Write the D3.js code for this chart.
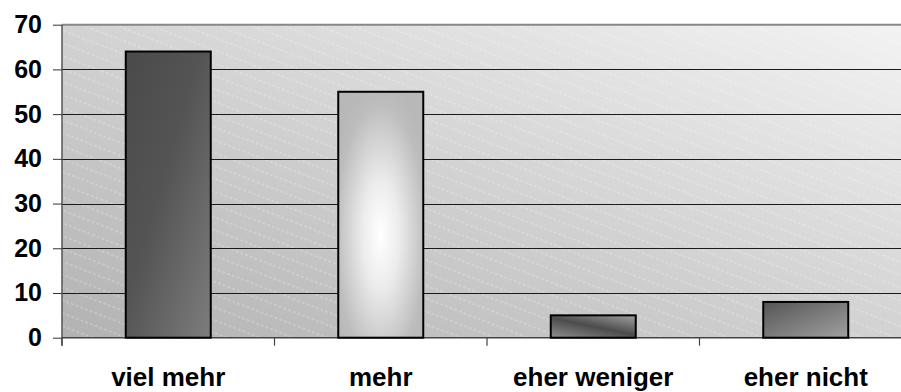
<!DOCTYPE html>
<html><head><meta charset="utf-8">
<script src="https://cdn.jsdelivr.net/npm/d3@7"></script>
<style>html,body{margin:0;padding:0;background:#fff;}svg{display:block;}</style>
</head><body>
<script>
const categories = ["viel mehr", "mehr", "eher weniger", "eher nicht"];
const values = [64, 55, 5, 8];
const yTicks = [0, 10, 20, 30, 40, 50, 60, 70];

const W = 901, H = 392;
const pLeft = 62, pRight = 912, pTop = 24.7, pBottom = 337.7;
const font = "'Liberation Sans', Arial, sans-serif";

const svg = d3.select("body").append("svg").attr("width", W).attr("height", H);
const defs = svg.append("defs");

const x = d3.scaleBand().domain(categories).range([pLeft, pRight]).padding(0);
const y = d3.scaleLinear().domain([0, 70]).range([pBottom, pTop]);

// background gradient
const bg = defs.append("linearGradient").attr("id", "bg")
  .attr("x1", 0).attr("y1", 1).attr("x2", 1).attr("y2", 0);
bg.append("stop").attr("offset", 0).attr("stop-color", "#b2b2b2");
bg.append("stop").attr("offset", 1).attr("stop-color", "#f3f3f3");

// stripes pattern
const pat = defs.append("pattern").attr("id", "stripes")
  .attr("patternUnits", "userSpaceOnUse").attr("width", 40).attr("height", 12)
  .attr("patternTransform", "rotate(21)");
pat.append("line").attr("x1", 0).attr("x2", 40).attr("y1", 6).attr("y2", 6)
  .attr("stroke", "#ffffff").attr("stroke-opacity", 0.45).attr("stroke-width", 0.8)
  .attr("stroke-dasharray", "3,2");

// bar gradients
const g1 = defs.append("linearGradient").attr("id", "b0")
  .attr("x1", 0).attr("y1", 0).attr("x2", 1).attr("y2", 1);
g1.append("stop").attr("offset", 0).attr("stop-color", "#4a4a4a");
g1.append("stop").attr("offset", 0.45).attr("stop-color", "#545454");
g1.append("stop").attr("offset", 1).attr("stop-color", "#7d7d7d");

const g2 = defs.append("radialGradient").attr("id", "b1")
  .attr("cx", 0.5).attr("cy", 0.58).attr("r", 0.62).attr("fx", 0.5).attr("fy", 0.58);
g2.append("stop").attr("offset", 0).attr("stop-color", "#ffffff");
g2.append("stop").attr("offset", 0.35).attr("stop-color", "#ececec");
g2.append("stop").attr("offset", 0.85).attr("stop-color", "#bdbdbd");
g2.append("stop").attr("offset", 1).attr("stop-color", "#b8b8b8");

const g3 = defs.append("linearGradient").attr("id", "b2")
  .attr("x1", 0.1).attr("y1", 1).attr("x2", 0.9).attr("y2", 0);
g3.append("stop").attr("offset", 0).attr("stop-color", "#8a8a8a");
g3.append("stop").attr("offset", 0.5).attr("stop-color", "#4c4c4c");
g3.append("stop").attr("offset", 1).attr("stop-color", "#9a9a9a");

const g4 = defs.append("linearGradient").attr("id", "b3")
  .attr("x1", 0).attr("y1", 0).attr("x2", 1).attr("y2", 1);
g4.append("stop").attr("offset", 0).attr("stop-color", "#555555");
g4.append("stop").attr("offset", 1).attr("stop-color", "#a0a0a0");

// plot background
svg.append("rect").attr("x", pLeft).attr("y", pTop).attr("width", pRight - pLeft).attr("height", pBottom - pTop)
  .attr("fill", "url(#bg)");
svg.append("rect").attr("x", pLeft).attr("y", pTop).attr("width", pRight - pLeft).attr("height", pBottom - pTop)
  .attr("fill", "url(#stripes)");

// gridlines
svg.append("g").selectAll("line").data(yTicks.filter(d => d > 0 && d < 70)).join("line")
  .attr("x1", pLeft).attr("x2", pRight)
  .attr("y1", d => Math.round(y(d)) + 0.5).attr("y2", d => Math.round(y(d)) + 0.5)
  .attr("stroke", "#1a1a1a").attr("stroke-width", 1);
// top border
svg.append("line").attr("x1", pLeft).attr("x2", pRight).attr("y1", y(70)).attr("y2", y(70))
  .attr("stroke", "#888").attr("stroke-width", 2);

// y axis
const yAxis = d3.axisLeft(y).tickValues(yTicks).tickSize(9).tickPadding(11);
const ya = svg.append("g").attr("transform", `translate(${pLeft},0)`).call(yAxis);
ya.select(".domain").attr("stroke", "#555").attr("stroke-width", 1.5)
  .attr("d", `M0,${pTop}V${pBottom + 8}`);
ya.selectAll(".tick line").attr("stroke", "#333");
ya.selectAll(".tick text").attr("font-family", font).attr("font-size", 25)
  .attr("font-weight", "bold").attr("fill", "#000");

// x axis
const xa = svg.append("g");
xa.append("line").attr("x1", pLeft).attr("x2", pRight).attr("y1", pBottom).attr("y2", pBottom)
  .attr("stroke", "#444").attr("stroke-width", 1.5);
const bounds = categories.map(c => x(c)).concat([pRight]);
xa.selectAll("line.t").data(bounds).join("line").attr("class", "t")
  .attr("x1", d => d).attr("x2", d => d).attr("y1", pBottom).attr("y2", pBottom + 8)
  .attr("stroke", "#444").attr("stroke-width", 1.2);
xa.selectAll("text").data(categories).join("text")
  .attr("x", d => x(d) + x.bandwidth() / 2).attr("y", 386)
  .attr("text-anchor", "middle").attr("font-family", font).attr("font-size", 26)
  .attr("font-weight", "bold").attr("fill", "#000").text(d => d);

// bars
svg.append("g").selectAll("rect").data(values).join("rect")
  .attr("x", (d, i) => x(categories[i]) + x.bandwidth() * 0.3)
  .attr("width", x.bandwidth() * 0.4)
  .attr("y", d => y(d))
  .attr("height", d => y(0) - y(d))
  .attr("fill", (d, i) => `url(#b${i})`)
  .attr("stroke", "#000").attr("stroke-width", 2);
</script>
</body></html>
